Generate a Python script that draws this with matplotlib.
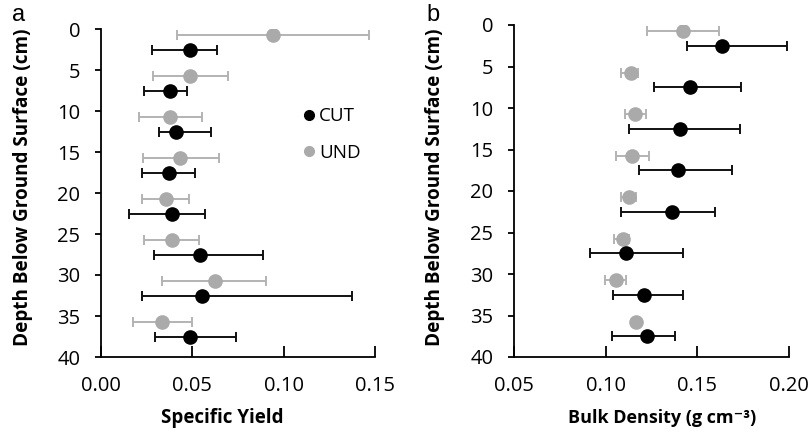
import matplotlib
matplotlib.use("Agg")
import matplotlib.pyplot as plt
from matplotlib.lines import Line2D

plt.rcParams['font.family'] = ['Open Sans', 'DejaVu Sans']

depth_und = [0.75, 5.75, 10.75, 15.75, 20.75, 25.75, 30.75, 35.75]
depth_cut = [2.5, 7.5, 12.5, 17.5, 22.5, 27.5, 32.5, 37.5]

# Specific yield
sy_cut = [0.0487, 0.0380, 0.0409, 0.0370, 0.0391, 0.0540, 0.0551, 0.0487]
sy_cut_lo = [0.0277, 0.0235, 0.0318, 0.0226, 0.0155, 0.0292, 0.0226, 0.0294]
sy_cut_hi = [0.0635, 0.0471, 0.0602, 0.0515, 0.0569, 0.0885, 0.1376, 0.0737]
sy_und = [0.0943, 0.0489, 0.0378, 0.0432, 0.0354, 0.0387, 0.0622, 0.0336]
sy_und_lo = [0.0418, 0.0283, 0.0206, 0.0228, 0.0226, 0.0235, 0.0336, 0.0173]
sy_und_hi = [0.1465, 0.0697, 0.0553, 0.0644, 0.0482, 0.0535, 0.0901, 0.0500]

# Bulk density
bd_cut = [0.1637, 0.1462, 0.1404, 0.1397, 0.1364, 0.1112, 0.1210, 0.1226]
bd_cut_lo = [0.1441, 0.1264, 0.1125, 0.1181, 0.1083, 0.0914, 0.1039, 0.1034]
bd_cut_hi = [0.1991, 0.1740, 0.1731, 0.1689, 0.1595, 0.1424, 0.1424, 0.1377]
bd_und = [0.1422, 0.1137, 0.1161, 0.1146, 0.1125, 0.1092, 0.1056, 0.1168]
bd_und_lo = [0.1228, 0.1083, 0.1108, 0.1059, 0.1085, 0.1047, 0.0996, 0.1150]
bd_und_hi = [0.1619, 0.1179, 0.1219, 0.1237, 0.1163, 0.1128, 0.1112, 0.1186]

yticks = [0, 5, 10, 15, 20, 25, 30, 35, 40]

BLACK = '#000000'
GREY = '#aaaaaa'
GREY_ERR = '#b3b3b3'

W, H = 809, 434
fig = plt.figure(figsize=(W / 100, H / 100), dpi=100)
axa = fig.add_axes([101 / W, 1 - 357 / H, 274 / W, 328 / H])
axb = fig.add_axes([514 / W, 1 - 357 / H, 275 / W, 332 / H])


def draw(ax, xs_c, lo_c, hi_c, xs_u, lo_u, hi_u):
    xerr_u = [[x - l for x, l in zip(xs_u, lo_u)], [h - x for x, h in zip(xs_u, hi_u)]]
    xerr_c = [[x - l for x, l in zip(xs_c, lo_c)], [h - x for x, h in zip(xs_c, hi_c)]]
    ax.errorbar(xs_u, depth_und, xerr=xerr_u, fmt='none', ecolor=GREY_ERR,
                elinewidth=1.4, capsize=3.5, capthick=1.4, zorder=2)
    ax.plot(xs_u, depth_und, 'o', color=GREY, markersize=9.5, zorder=3, linestyle='none')
    ax.errorbar(xs_c, depth_cut, xerr=xerr_c, fmt='none', ecolor='#111111',
                elinewidth=1.4, capsize=3.5, capthick=1.4, zorder=4)
    ax.plot(xs_c, depth_cut, 'o', color=BLACK, markersize=9.5, zorder=5, linestyle='none')
    ax.set_ylim(40, 0)
    ax.set_yticks(yticks)
    for s in ['top', 'right']:
        ax.spines[s].set_visible(False)
    for s in ['left', 'bottom']:
        ax.spines[s].set_linewidth(1.3)
    ax.tick_params(axis='x', direction='in', length=8, width=1.3, labelsize=14.5, pad=14)
    ax.tick_params(axis='y', direction='out', length=4, width=1.3, labelsize=14.5, pad=11)
    ax.set_ylabel('Depth Below Ground Surface (cm)', fontsize=13.6, fontweight='bold')


draw(axa, sy_cut, sy_cut_lo, sy_cut_hi, sy_und, sy_und_lo, sy_und_hi)
axa.set_xlim(0, 0.15)
axa.set_xticks([0.0, 0.05, 0.10, 0.15])
axa.set_xticklabels(['0.00', '0.05', '0.10', '0.15'])
axa.set_xlabel('Specific Yield', fontsize=13.5, fontweight='bold')
axa.xaxis.set_label_coords((222 - 101) / 274, -(418 - 357) / 328, transform=axa.transAxes)
axa.xaxis.label.set_va('center')
axa.yaxis.set_label_coords(-(101 - 23) / 274, (357 - 187) / 328, transform=axa.transAxes)
axa.yaxis.label.set_va('center')

draw(axb, bd_cut, bd_cut_lo, bd_cut_hi, bd_und, bd_und_lo, bd_und_hi)
axb.set_xlim(0.05, 0.20)
axb.set_xticks([0.05, 0.10, 0.15, 0.20])
axb.set_xticklabels(['0.05', '0.10', '0.15', '0.20'])
axb.set_xlabel('Bulk Density (g cm\u207b\u00b3)', fontsize=13, fontweight='bold')
axb.xaxis.set_label_coords((662 - 514) / 275, -(418 - 357) / 332, transform=axb.transAxes)
axb.xaxis.label.set_va('center')
axb.yaxis.set_label_coords(-(514 - 435) / 275, (357 - 187) / 332, transform=axb.transAxes)
axb.yaxis.label.set_va('center')

handles = [Line2D([], [], marker='o', color=BLACK, linestyle='none', markersize=7),
           Line2D([], [], marker='o', color=GREY, linestyle='none', markersize=7)]
axa.legend(handles, ['CUT', 'UND'], loc='upper left', bbox_to_anchor=(0.69, 0.79),
           frameon=False, fontsize=13.5, handletextpad=0.05, labelspacing=1.0,
           handlelength=1.0, borderpad=0)

fig.text(19 / W, 1 - 15 / H, 'a', fontsize=17, ha='center', va='center', family='Liberation Sans')
fig.text(433 / W, 1 - 15 / H, 'b', fontsize=17, ha='center', va='center', family='Liberation Sans')

fig.savefig('out.png', dpi=100)
